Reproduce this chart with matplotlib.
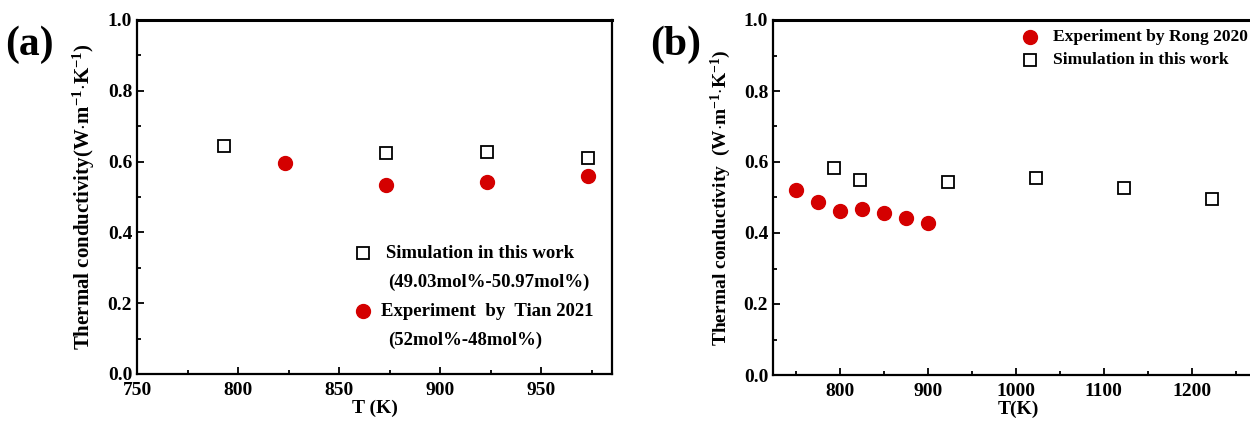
import matplotlib
matplotlib.use("Agg")
import matplotlib.pyplot as plt
import numpy as np
from matplotlib.ticker import MultipleLocator

plt.rcParams["font.family"] = ["Liberation Serif", "DejaVu Serif"]
plt.rcParams["font.weight"] = "bold"
plt.rcParams["mathtext.fontset"] = "custom"
plt.rcParams["mathtext.rm"] = "Liberation Serif:bold"
plt.rcParams["mathtext.default"] = "rm"

# panel (a)
sim_a_T = [793, 873, 923, 973]
sim_a_k = [0.643, 0.623, 0.627, 0.610]
exp_a_T = [823, 873, 923, 973]
exp_a_k = [0.595, 0.535, 0.542, 0.558]

# panel (b)
exp_b_T = [750, 775, 800, 825, 850, 875, 900]
exp_b_k = [0.520, 0.488, 0.462, 0.467, 0.457, 0.441, 0.428]
sim_b_T = [793, 823, 923, 1023, 1123, 1223]
sim_b_k = [0.583, 0.548, 0.543, 0.556, 0.526, 0.497]

RED = "#d40000"
ylab = r"Thermal conductivity(W$\cdot$m$^{-1}$$\cdot$K$^{-1}$)"
ylab_b = r"Thermal conductivity  (W$\cdot$m$^{-1}$$\cdot$K$^{-1}$)"

fig = plt.figure(figsize=(12.5, 4.21), dpi=100)
ax1 = fig.add_axes([137/1250, 1-374/421, 475/1250, 354/421])
ax2 = fig.add_axes([773/1250, 1-375/421, 490/1250, 355/421])


def style(ax):
    for s in ax.spines.values():
        s.set_linewidth(1.6)
    ax.spines["top"].set_linewidth(2.2)
    ax.tick_params(which="both", direction="in", top=False, right=False,
                   labelsize=14, width=1.3)
    ax.tick_params(axis="x", pad=6)
    ax.tick_params(which="major", length=5)
    ax.tick_params(which="minor", length=3)
    ax.yaxis.set_major_locator(MultipleLocator(0.2))
    ax.yaxis.set_minor_locator(MultipleLocator(0.1))
    ax.set_ylim(0, 1.0)
    ax.yaxis.set_major_formatter(matplotlib.ticker.FormatStrFormatter("%.1f"))


def sq(ax, x, y, **kw):
    ax.plot(x, y, "s", ms=8.5, mfc="white", mec="black", mew=1.3, clip_on=False, **kw)


def circ(ax, x, y, **kw):
    ax.plot(x, y, "o", ms=10, mfc=RED, mec=RED, clip_on=False, **kw)


# (a)
style(ax1)
sq(ax1, sim_a_T, sim_a_k)
circ(ax1, exp_a_T, exp_a_k)
ax1.set_xlim(750, 985)
ax1.xaxis.set_major_locator(MultipleLocator(50))
ax1.xaxis.set_minor_locator(MultipleLocator(25))
ax1.set_xlabel("T (K)", fontsize=14, fontweight="bold", labelpad=0)
ax1.set_ylabel(ylab, fontsize=15, fontweight="bold", labelpad=8)

tr = ax1.transAxes
def ax_a(px, py):
    return (px - 137) / 475, (374 - py) / 354
sq(ax1, *ax_a(363, 253), transform=tr)
circ(ax1, *ax_a(363, 311), transform=tr)
ax1.text(*ax_a(386, 253), "Simulation in this work", transform=tr, fontsize=13.5, va="center")
ax1.text(*ax_a(388, 282), "(49.03mol%-50.97mol%)", transform=tr, fontsize=13.5, va="center")
ax1.text(*ax_a(381, 311), "Experiment  by  Tian 2021", transform=tr, fontsize=13.5, va="center")
ax1.text(*ax_a(388, 340), "(52mol%-48mol%)", transform=tr, fontsize=13.5, va="center")

# (b)
style(ax2)
circ(ax2, exp_b_T, exp_b_k)
sq(ax2, sim_b_T, sim_b_k)
ax2.set_xlim(724, 1281)
ax2.xaxis.set_major_locator(MultipleLocator(100))
ax2.xaxis.set_minor_locator(MultipleLocator(50))
ax2.set_xlabel("T(K)", fontsize=14, fontweight="bold", labelpad=0)
ax2.set_ylabel(ylab_b, fontsize=14, fontweight="bold", labelpad=8)
ax2.spines["right"].set_visible(False)

tr2 = ax2.transAxes
def ax_b(px, py):
    return (px - 773) / 490, (375 - py) / 355
circ(ax2, *ax_b(1030, 37), transform=tr2)
sq(ax2, *ax_b(1030, 60), transform=tr2)
ax2.text(*ax_b(1053, 37), "Experiment by Rong 2020", transform=tr2, fontsize=12.6, va="center")
ax2.text(*ax_b(1053, 60), "Simulation in this work", transform=tr2, fontsize=12.6, va="center")

fig.text(5/1250, 1-45/421, "(a)", fontsize=30, fontweight="bold", va="center")
fig.text(650/1250, 1-45/421, "(b)", fontsize=30, fontweight="bold", va="center")

fig.savefig("out.png", dpi=100)
